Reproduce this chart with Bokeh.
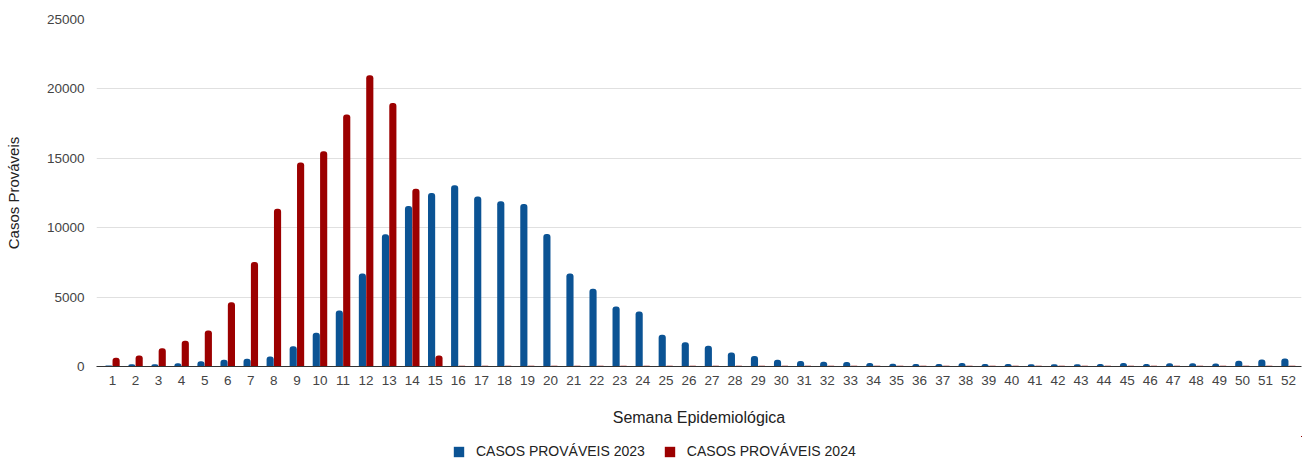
from bokeh.plotting import figure
from bokeh.layouts import column
from bokeh.models import Range1d, FixedTicker, Legend, LegendItem, ColumnDataSource
from bokeh.transform import dodge
from bokeh.embed import file_html
from bokeh.resources import INLINE

weeks = list(range(1, 53))
casos_2023 = [70, 170, 170, 240, 380, 480, 550, 720, 1460, 2430, 4030, 6700, 9520, 11560,
              12500, 13050, 12250, 11900, 11700, 9550, 6700, 5600, 4330, 3960, 2280, 1750,
              1500, 1000, 750, 480, 400, 340, 330, 260, 190, 180, 180, 250, 180, 180, 170,
              170, 170, 180, 260, 180, 240, 240, 220, 420, 500, 580]
casos_2024 = [630, 790, 1320, 1850, 2590, 4630, 7520, 11370, 14690, 15500, 18150, 20990,
              18990, 12810, 790, 50, 50, 50, 50, 50, 50, 50, 50, 50, 50, 50, 50, 50, 50, 50,
              50, 50, 50, 50, 50, 50, 50, 50, 50, 50, 50, 50, 50, 50, 50, 50, 50, 50, 50,
              50, 50, 50]
y_ticks = [0, 5000, 10000, 15000, 20000, 25000]
series_labels = ["CASOS PROVÁVEIS 2023", "CASOS PROVÁVEIS 2024"]
colors = ["#0b5394", "#9c0000"]

src = ColumnDataSource(dict(week=weeks, c23=casos_2023, c24=casos_2024))

FONT = "Liberation Sans"

p = figure(frame_width=1205, frame_height=347, output_backend="svg", toolbar_location=None,
           x_range=Range1d(0.31, 52.56), y_range=Range1d(0, 25000),
           min_border_left=96, min_border_right=2, min_border_top=19, min_border_bottom=70)
p.outline_line_color = None

r1 = p.vbar(x=dodge("week", -0.16), top="c23", width=0.31, source=src,
            fill_color=colors[0], line_color=None, border_radius=(3, 3, 0, 0))
r2 = p.vbar(x=dodge("week", 0.16), top="c24", width=0.31, source=src,
            fill_color=colors[1], line_color=None, border_radius=(3, 3, 0, 0))

p.xaxis.ticker = FixedTicker(ticks=weeks)
p.xaxis.major_tick_line_color = None
p.xaxis.minor_tick_line_color = None
p.xaxis.axis_line_color = "#333333"
p.xaxis.major_label_text_font = FONT
p.xaxis.major_label_text_font_size = "13.5px"
p.xaxis.major_label_text_color = "#444444"
p.xaxis.major_label_standoff = 3
p.xaxis.axis_label = "Semana Epidemiológica"
p.xaxis.axis_label_text_font = FONT
p.xaxis.axis_label_text_font_style = "normal"
p.xaxis.axis_label_text_font_size = "16px"
p.xaxis.axis_label_text_color = "#222222"
p.xaxis.axis_label_standoff = 21

p.yaxis.ticker = FixedTicker(ticks=y_ticks)
p.yaxis.major_tick_line_color = None
p.yaxis.minor_tick_line_color = None
p.yaxis.axis_line_color = None
p.yaxis.major_label_text_font = FONT
p.yaxis.major_label_text_font_size = "13.5px"
p.yaxis.major_label_text_color = "#444444"
p.yaxis.major_label_standoff = 6
p.yaxis.axis_label = "Casos Prováveis"
p.yaxis.axis_label_text_font = FONT
p.yaxis.axis_label_text_font_style = "normal"
p.yaxis.axis_label_text_font_size = "15px"
p.yaxis.axis_label_text_color = "#222222"
p.yaxis.axis_label_standoff = 22

p.xgrid.grid_line_color = None
p.ygrid.grid_line_color = "#e0e0e0"

# legend strip below the chart (its renderers share the data but draw nothing in view)
leg = figure(width=1303, height=25, output_backend="svg", toolbar_location=None,
             x_range=Range1d(-1001, -1000), y_range=Range1d(-1000001, -1000000),
             x_axis_type=None, y_axis_type=None, min_border=0)
leg.outline_line_color = None
l1 = leg.vbar(x="week", top="c23", width=0, source=src,
              fill_color=colors[0], line_color=None)
l2 = leg.vbar(x="week", top="c24", width=0, source=src,
              fill_color=colors[1], line_color=None)
legend = Legend(items=[LegendItem(label=series_labels[0], renderers=[l1]),
                       LegendItem(label=series_labels[1], renderers=[l2])],
                orientation="horizontal", location=(356, 2),
                glyph_width=13, glyph_height=13, label_height=16,
                label_text_font=FONT, label_text_font_size="14px",
                label_text_color="#222222", spacing=18, border_line_color=None,
                background_fill_alpha=0, padding=0, margin=0, label_standoff=11)
leg.add_layout(legend, "center")

layout = column(p, leg, spacing=0)
open("out.html", "w").write(file_html(layout, INLINE))
